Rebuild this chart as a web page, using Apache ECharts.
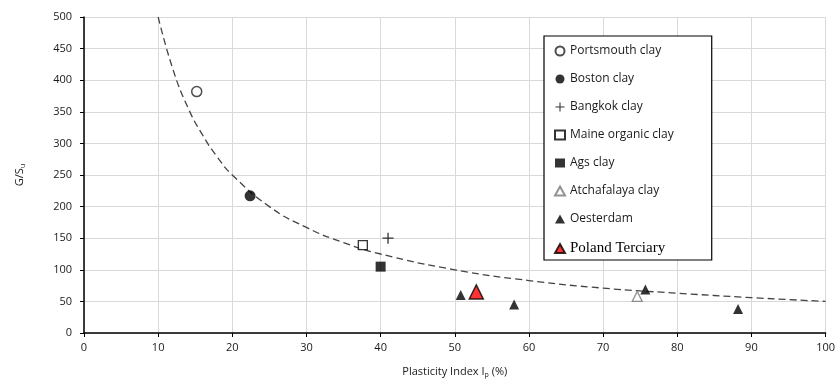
<!doctype html>
<html>
<head>
    <meta charset="utf-8">
    <title>G/Su vs Plasticity Index</title>
    <script src="https://cdn.jsdelivr.net/npm/echarts@6/dist/echarts.min.js"></script>
    <style>
        html, body {margin: 0; padding: 0; background: #fff;}
        #main {width: 838px; height: 389px;}
    </style>
</head>
<body>
<div id="main"></div>
<script>
    // 数据 (Ip %, G/Su)
    const portsmouth = [[15.2, 382]];
    const boston = [[22.4, 217]];
    const bangkok = [[41, 150]];
    const maine = [[37.6, 139]];
    const ags = [[40, 105]];
    const atchafalaya = [[74.6, 58]];
    const oesterdam = [[50.8, 60], [58, 45], [75.7, 69], [88.2, 38]];
    const poland = [[52.9, 65]];
    // 趋势线
    const trendX = [10, 12, 14, 16, 18, 20, 25, 30, 35, 40, 50, 60, 70, 80, 90, 100];
    const trendY = [500, 417, 357, 313, 278, 250, 200, 167, 143, 125, 100, 83, 71, 63, 56, 50];
    const xTicks = {min: 0, max: 100, interval: 10};
    const yTicks = {min: 0, max: 500, interval: 50};

    const uiFont = 'Open Sans';
    const textColor = '#1a1a1a';
    const plusPath = 'path://M4.4,0h1.2v4.4h4.4v1.2h-4.4v4.4h-1.2v-4.4h-4.4v-1.2h4.4z';

    const legendNames = ['Portsmouth clay', 'Boston clay', 'Bangkok clay', 'Maine organic clay',
        'Ags clay', 'Atchafalaya clay', 'Oesterdam', 'Poland Terciary'];

    const option = {
        animation: false,
        grid: {left: 84, right: 12, top: 17, bottom: 56},
        legend: {
            orient: 'vertical',
            left: 544,
            top: 36,
            padding: [9, 38, 4, 10],
            itemGap: 16,
            itemWidth: 10,
            itemHeight: 9,
            borderColor: '#000',
            borderWidth: 1.2,
            backgroundColor: '#fff',
            textStyle: {fontFamily: uiFont, fontSize: 12, color: textColor},
            data: legendNames.map(function (n) {
                if (n === 'Poland Terciary') {
                    return {name: n, textStyle: {fontFamily: 'Liberation Serif', fontSize: 15, color: '#000'}};
                }
                return {name: n};
            })
        },
        xAxis: {
            type: 'value',
            min: xTicks.min, max: xTicks.max, interval: xTicks.interval,
            name: 'Plasticity Index I{sub|p} (%)',
            nameLocation: 'middle',
            nameGap: 32,
            nameTextStyle: {fontFamily: uiFont, fontSize: 11, color: textColor,
                rich: {sub: {fontFamily: uiFont, fontSize: 7, verticalAlign: 'bottom', padding: [6, 0, 0, 0]}}},
            axisLine: {show: true, lineStyle: {color: '#000', width: 1.5}},
            axisTick: {show: true, inside: false, length: 4, lineStyle: {color: '#000'}},
            axisLabel: {fontFamily: uiFont, fontSize: 11, color: textColor, margin: 9},
            splitLine: {show: true, lineStyle: {color: '#d9d9d9', width: 1}}
        },
        yAxis: {
            type: 'value',
            min: yTicks.min, max: yTicks.max, interval: yTicks.interval,
            name: 'G/S{sub|u}',
            nameLocation: 'middle',
            nameGap: 58,
            nameTextStyle: {fontFamily: uiFont, fontSize: 11, color: textColor,
                rich: {sub: {fontFamily: uiFont, fontSize: 7, verticalAlign: 'bottom', padding: [6, 0, 0, 0]}}},
            axisLine: {show: true, lineStyle: {color: '#000', width: 1.5}},
            axisTick: {show: true, inside: false, length: 4, lineStyle: {color: '#000'}},
            axisLabel: {fontFamily: uiFont, fontSize: 11, color: textColor, margin: 12},
            splitLine: {show: true, lineStyle: {color: '#d9d9d9', width: 1}}
        },
        series: [
            {
                name: 'trend',
                type: 'line',
                data: trendX.map(function (x, i) { return [x, trendY[i]]; }),
                smooth: true,
                showSymbol: false,
                symbol: 'none',
                lineStyle: {color: '#444', width: 1.3, type: [7, 4]},
                z: 1
            },
            {
                name: 'Portsmouth clay', type: 'scatter', data: portsmouth,
                symbol: 'circle', symbolSize: 10,
                itemStyle: {color: '#fff', borderColor: '#222', borderWidth: 1.5}
            },
            {
                name: 'Boston clay', type: 'scatter', data: boston,
                symbol: 'circle', symbolSize: 11,
                itemStyle: {color: '#000'}
            },
            {
                name: 'Bangkok clay', type: 'scatter', data: bangkok,
                symbol: plusPath, symbolSize: 11,
                itemStyle: {color: '#000'}
            },
            {
                name: 'Maine organic clay', type: 'scatter', data: maine,
                symbol: 'rect', symbolSize: 9,
                itemStyle: {color: '#fff', borderColor: '#000', borderWidth: 1.3}
            },
            {
                name: 'Ags clay', type: 'scatter', data: ags,
                symbol: 'rect', symbolSize: 10,
                itemStyle: {color: '#000'}
            },
            {
                name: 'Atchafalaya clay', type: 'scatter', data: atchafalaya,
                symbol: 'triangle', symbolSize: 10,
                itemStyle: {color: '#fff', borderColor: '#777', borderWidth: 1.3}
            },
            {
                name: 'Oesterdam', type: 'scatter', data: oesterdam,
                symbol: 'triangle', symbolSize: 10,
                itemStyle: {color: '#000'}
            },
            {
                name: 'Poland Terciary', type: 'scatter', data: poland,
                symbol: 'triangle', symbolSize: 14,
                itemStyle: {color: '#f00', borderColor: '#000', borderWidth: 1.5}
            }
        ]
    };

    const myChart = echarts.init(document.getElementById('main'));
    myChart.setOption(option);
</script>
</body>
</html>
